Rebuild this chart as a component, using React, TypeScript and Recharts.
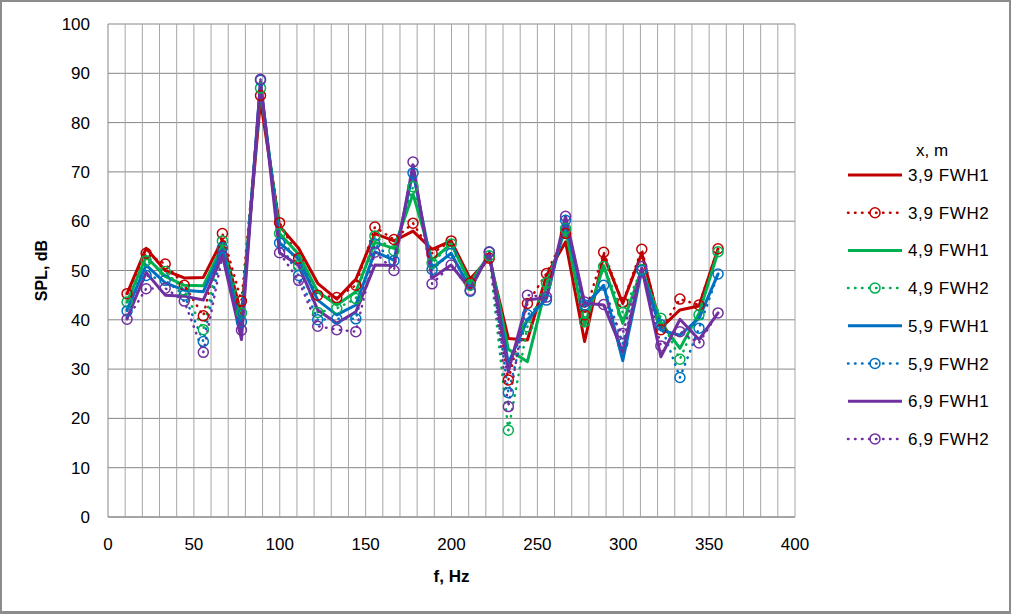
import React from 'react';
import { LineChart, Line, XAxis, YAxis, CartesianGrid, ReferenceLine, Legend } from 'recharts';

const freq = [
  11.1, 22.2, 33.3, 44.4, 55.5, 66.6, 77.7, 88.8, 99.9, 111, 122.1, 133.2, 144.3, 155.4, 166.5, 177.6,
  188.7, 199.8, 210.9, 222, 233.1, 244.2, 255.3, 266.4, 277.5, 288.6, 299.7, 310.8, 321.9, 333, 344.1, 355.2,
];

const red1 = [45.3, 54.5, 50, 48.5, 48.6, 56.2, 41, 84.5, 59, 54.5, 47.4, 44.2, 48.2, 57.5, 56, 58, 54.3, 56, 48.3, 52.5, 36.2, 35.9, 49, 55.8, 35.6, 53.1, 43.3, 53.5, 38.3, 42, 42.8, 54.4];
const red2 = [45.3, 53.5, 51.3, 47, 40.8, 57.5, 43.8, 85.5, 59.7, 52.5, 45, 44.5, 47, 58.8, 56.3, 59.6, 53.5, 56, 47.5, 52.5, 27.8, 43.3, 49.4, 57.5, 41, 53.7, 43.5, 54.3, 38, 44.2, 43, 54.4];
const green1 = [43.6, 52.8, 48.8, 47, 46.9, 55, 39, 87, 57.5, 53.3, 45.7, 43, 45.7, 55.7, 54.5, 65.5, 52.1, 55.4, 47.5, 53.2, 34, 31.5, 47, 58.5, 38.8, 51, 39.3, 50.2, 39.5, 34.2, 41.3, 53.8];
const green2 = [43.6, 52, 49.8, 46, 38, 56, 41.4, 87, 57.5, 51, 41.5, 42.3, 44.3, 57, 54, 67, 51.5, 55.4, 47, 53, 17.6, 38.6, 47.5, 58.5, 39.6, 50.8, 41.5, 50.2, 40.3, 32, 41, 53.8];
const blue1 = [42, 51.1, 47.5, 46, 45.7, 54.2, 38, 88.2, 55.6, 52.3, 44, 41, 43, 53.8, 52.1, 70, 50.5, 53.5, 46.3, 53.5, 31.2, 40, 44.3, 60, 42.7, 47, 31.7, 50, 37.9, 36.9, 40.3, 49.3];
const blue2 = [41.8, 49, 48, 45, 35.6, 54.6, 39.6, 88.6, 55.6, 49, 40, 40.2, 40.2, 55.4, 52, 69.8, 50.2, 53.5, 45.8, 53.8, 25.2, 41, 44, 60.2, 43, 47, 35.2, 50, 39, 28.3, 38.3, 49.3];
const purple1 = [40.3, 49.6, 45, 44.8, 44, 53.1, 36, 88.3, 53.6, 51, 42, 39.3, 41.6, 51.1, 51, 71.4, 48.5, 51.1, 46.2, 53.5, 29.5, 44, 44.5, 61, 43.4, 43, 33.5, 50.5, 32.5, 40.1, 36, 41.4];
const purple2 = [40.1, 46.3, 46.4, 43.8, 33.4, 53, 37.9, 88.8, 53.6, 48, 38.7, 38, 37.6, 53.7, 50, 72, 47.3, 51.1, 46, 53.7, 22.4, 45, 44.6, 61, 43.6, 43.1, 37.2, 50.8, 34.7, 37.6, 35.3, 41.4];

const xTicks = [0, 50, 100, 150, 200, 250, 300, 350, 400];
const yTicks = [0, 10, 20, 30, 40, 50, 60, 70, 80, 90, 100];
const minorX = [10, 20, 30, 40, 50, 60, 70, 80, 90, 100, 110, 120, 130, 140, 150, 160, 170, 180, 190, 200,
  210, 220, 230, 240, 250, 260, 270, 280, 290, 300, 310, 320, 330, 340, 350, 360, 370, 380, 390, 400];

const legendTitle = 'x, m';

const series = [
  { key: 'r1', name: '3,9 FWH1', color: '#C00000', values: red1, dotted: false },
  { key: 'r2', name: '3,9 FWH2', color: '#C00000', values: red2, dotted: true },
  { key: 'g1', name: '4,9 FWH1', color: '#00B050', values: green1, dotted: false },
  { key: 'g2', name: '4,9 FWH2', color: '#00B050', values: green2, dotted: true },
  { key: 'b1', name: '5,9 FWH1', color: '#0070C0', values: blue1, dotted: false },
  { key: 'b2', name: '5,9 FWH2', color: '#0070C0', values: blue2, dotted: true },
  { key: 'p1', name: '6,9 FWH1', color: '#7030A0', values: purple1, dotted: false },
  { key: 'p2', name: '6,9 FWH2', color: '#7030A0', values: purple2, dotted: true },
];

const data = freq.map((f, i) => {
  const row: Record<string, number> = { f };
  series.forEach((s) => { row[s.key] = s.values[i]; });
  return row;
});

const FONT = '"Liberation Sans", Arial, sans-serif';
const DOTS = '0.5 6.5';

function renderLegend() {
  return (
    <svg width={170} height={330} style={{ fontFamily: FONT }}>
      <text x={92} y={20} textAnchor="middle" fontSize={17} fill="#000">{legendTitle}</text>
      {series.map((s, i) => {
        const y = 39 + i * 37.7;
        return (
          <g key={s.key}>
            <line
              x1={8} x2={62} y1={y} y2={y}
              stroke={s.color}
              strokeWidth={s.dotted ? 2.5 : 3}
              strokeDasharray={s.dotted ? DOTS : undefined}
              strokeLinecap={s.dotted ? 'round' : 'butt'}
            />
            {s.dotted && <circle cx={35} cy={y} r={5} fill="none" stroke={s.color} strokeWidth={1.5} />}
            <text x={68} y={y + 6} fontSize={17} letterSpacing={0.6} fill="#000">{s.name}</text>
          </g>
        );
      })}
    </svg>
  );
}

export default function App() {
  return (
    <div
      style={{
        position: 'absolute', left: 0, top: 0, width: 1011, height: 614,
        boxSizing: 'border-box', border: '2px solid #8c8c8c', borderBottomWidth: 3, background: '#fff',
        fontFamily: FONT,
      }}
    >
      <div style={{ position: 'absolute', left: -2, top: -2 }}>
        <LineChart width={1011} height={614} data={data} margin={{ top: 24, right: 216, left: 48, bottom: 57 }}>
          {minorX.map((v) => (
            <ReferenceLine key={v} x={v} stroke="#a6a6a6" strokeWidth={1} />
          ))}
          <CartesianGrid vertical={false} stroke="#868686" strokeWidth={1} />
          <XAxis
            dataKey="f"
            type="number"
            domain={[0, 400]}
            ticks={xTicks}
            interval={0}
            tickSize={0}
            tickMargin={21}
            height={40}
            stroke="#868686"
            tick={{ fill: '#000', fontSize: 17, fontFamily: FONT }}
            label={{ value: 'f, Hz', position: 'insideBottom', offset: -25, fill: '#000', fontSize: 17, fontWeight: 'bold', fontFamily: FONT }}
          />
          <YAxis
            type="number"
            domain={[0, 100]}
            ticks={yTicks}
            interval={0}
            tickSize={0}
            tickMargin={18}
            width={60}
            stroke="#868686"
            tick={{ fill: '#000', fontSize: 17, fontFamily: FONT }}
            label={{ value: 'SPL, dB', angle: -90, position: 'insideLeft', offset: -7, fill: '#000', fontSize: 16, fontWeight: 'bold', fontFamily: FONT, style: { textAnchor: 'middle' } }}
          />
          <Legend
            layout="vertical"
            align="center"
            verticalAlign="middle"
            wrapperStyle={{ left: 840, top: 136, width: 170, height: 330 }}
            content={renderLegend}
          />
          {series.map((s) => (
            <Line
              key={s.key}
              dataKey={s.key}
              name={s.name}
              type="linear"
              stroke={s.color}
              strokeWidth={s.dotted ? 2.5 : 3}
              strokeDasharray={s.dotted ? DOTS : undefined}
              strokeLinecap="round"
              strokeLinejoin="round"
              dot={s.dotted ? { r: 5, fill: 'none', stroke: s.color, strokeWidth: 1.5, strokeDasharray: 'none' } : false}
              activeDot={false}
              isAnimationActive={false}
            />
          ))}
        </LineChart>
      </div>
    </div>
  );
}
